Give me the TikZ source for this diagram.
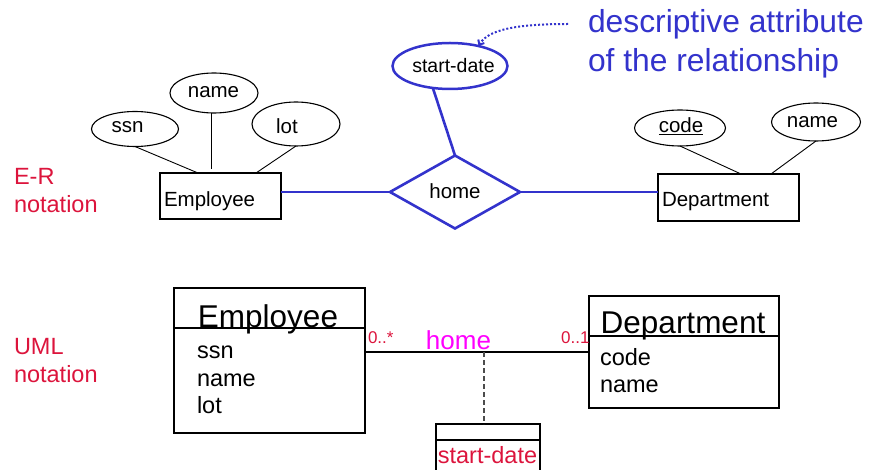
\documentclass[tikz,border=0pt]{standalone}
\usepackage{fontspec}
\setmainfont{Liberation Sans}
\usetikzlibrary{shapes.geometric,arrows.meta,calc}
\definecolor{relblue}{RGB}{51,51,204}
\definecolor{notered}{RGB}{220,20,60}
\definecolor{rolemag}{RGB}{255,0,255}
\newcommand{\pxfont}[1]{\fontsize{#1}{#1}\selectfont}

\begin{document}
\begin{tikzpicture}[x=1pt,y=-1pt,
  every node/.style={inner sep=0pt, outer sep=0pt},
  erbox/.style={draw, rectangle, line width=1.2pt},
  attrell/.style={draw, ellipse, line width=1.1pt},
  attrline/.style={line width=0.9pt},
  reltie/.style={draw=relblue, line width=2.6pt},
  ertxt/.style={font=\pxfont{20.5}},
  notetxt/.style={font=\pxfont{31.8}, text=relblue},
  sidetxt/.style={font=\pxfont{23.5}, text=notered},
  umlbox/.style={draw, rectangle, line width=1.3pt},
  umlline/.style={line width=1.3pt},
  umlname/.style={font=\pxfont{31.5}},
  umlattr/.style={font=\pxfont{23.5}},
  multtxt/.style={font=\pxfont{17}, text=notered}
]
\useasboundingbox (0,0) rectangle (870,470);
\clip (0,0) rectangle (870,470);

% ---------- side labels ----------
\node[sidetxt, anchor=base west] (erLab1) at (14,185) {E-R};
\node[sidetxt, anchor=base west] (erLab2) at (14,213) {notation};
\node[sidetxt, anchor=base west] (umlLab1) at (14,354) {UML};
\node[sidetxt, anchor=base west] (umlLab2) at (14,382) {notation};

% ---------- E-R diagram ----------
\node[erbox, minimum width=121pt, minimum height=46pt] (empER) at (220.5,196) {};
\node[ertxt, anchor=base west] (empERt) at (164,207) {Employee};

\node[attrell, minimum width=87pt, minimum height=35pt] (ssnE) at (135,129) {};
\node[ertxt, anchor=base] (ssnEt) at (127.5,133) {ssn};
\node[attrell, minimum width=88pt, minimum height=40pt] (nameE) at (214,93) {};
\node[ertxt, anchor=base] (nameEt) at (213.5,98) {name};
\node[attrell, minimum width=88pt, minimum height=44pt] (lotE) at (296,124) {};
\node[ertxt, anchor=base] (lotEt) at (287,134) {lot};

\node[erbox, minimum width=141pt, minimum height=47pt] (deptER) at (728.5,197.5) {};
\node[ertxt, anchor=base west] (deptERt) at (662,207) {Department};

\node[attrell, minimum width=91pt, minimum height=36pt] (codeE) at (680,128) {};
\node[ertxt, anchor=base] (codeEt) at (681,133) {\underline{code}};
\node[attrell, minimum width=89pt, minimum height=38pt] (dnameE) at (816,122) {};
\node[ertxt, anchor=base] (dnameEt) at (812.5,127.5) {name};

\node[diamond, draw=relblue, line width=2.6pt, aspect=1.78,
      minimum width=130pt, minimum height=73pt] (rel) at (455,192) {};
\node[ertxt, anchor=base] (relt) at (455,199) {home};

\node[attrell, draw=relblue, line width=2.5pt,
      minimum width=115pt, minimum height=46pt] (sdE) at (450,66) {};
\node[ertxt, font=\pxfont{19.5}, anchor=base] (sdEt) at (453.5,72.5) {start-date};

% attribute links
\draw[attrline] (ssnE.south) -- ($(empER.north west)+(38,0)$);
\draw[attrline] ($(nameE.south)+(-3,0)$) -- ($(empER.north west)+(51,-4)$);
\draw[attrline] (lotE.south) -- ($(empER.north west)+(96,0)$);
\draw[attrline] (codeE.south) -- ($(deptER.north west)+(83,0)$);
\draw[attrline] (dnameE.south) -- ($(deptER.north west)+(113,0)$);

% relationship links
\draw[reltie] (empER.east |- rel.west) -- (rel.west);
\draw[reltie] (rel.east) -- (deptER.west |- rel.east);
\draw[reltie] (sdE.232) -- (rel.north);

% annotation
\coordinate (noteTail) at (568,24);
\draw[relblue, line width=2pt, dash pattern=on 2pt off 2pt,
      -{Straight Barb[length=4pt,width=7pt]}]
  (noteTail) .. controls (515,24) and (488,30) .. (sdE.35);
\node[notetxt, anchor=base west] (note1) at (588,33) {descriptive attribute};
\node[notetxt, anchor=base west] (note2) at (588,71.5) {of the relationship};

% ---------- UML diagram ----------
\node[umlbox, minimum width=191pt, minimum height=145pt] (empU) at (269.5,360.5) {};
\draw[umlline] ($(empU.north west)+(0,40)$) -- ($(empU.north east)+(0,40)$);
\node[umlname, anchor=base] (empUt) at (268,327) {Employee};
\node[umlattr, anchor=base west] (empUa1) at (197,358) {ssn};
\node[umlattr, anchor=base west] (empUa2) at (197,386) {name};
\node[umlattr, anchor=base west] (empUa3) at (197,413) {lot};

\node[umlbox, minimum width=190pt, minimum height=112pt] (deptU) at (684,352) {};
\draw[umlline] ($(deptU.north west)+(0,40)$) -- ($(deptU.north east)+(0,40)$);
\node[umlname, anchor=base] (deptUt) at (683,333.5) {Department};
\node[umlattr, anchor=base west] (deptUa1) at (600,365) {code};
\node[umlattr, anchor=base west] (deptUa2) at (600,392.5) {name};

\coordinate (assocL) at ($(empU.north east)+(0,64)$);
\coordinate (assocR) at ($(deptU.north west)+(0,56)$);
\coordinate (assocMid) at (484,352);
\draw[umlline] (assocL) -- (assocR);
\node[multtxt, anchor=base west] (multL) at (368,343) {0..*};
\node[multtxt, anchor=base east] (multR) at (589.5,343) {0..1};
\node[font=\pxfont{26}, text=rolemag, anchor=base] (assocName) at (458.5,349) {home};

\node[umlbox, minimum width=104pt, minimum height=60pt] (sdU) at (488,454) {};
\draw[umlline] ($(sdU.north west)+(0,16)$) -- ($(sdU.north east)+(0,16)$);
\node[umlattr, text=notered, anchor=base] (sdUt) at (487.5,463) {start-date};
\draw[line width=1.3pt, black!70, dash pattern=on 5pt off 3pt] (assocMid) -- (sdU.north -| assocMid);
\end{tikzpicture}
\end{document}
